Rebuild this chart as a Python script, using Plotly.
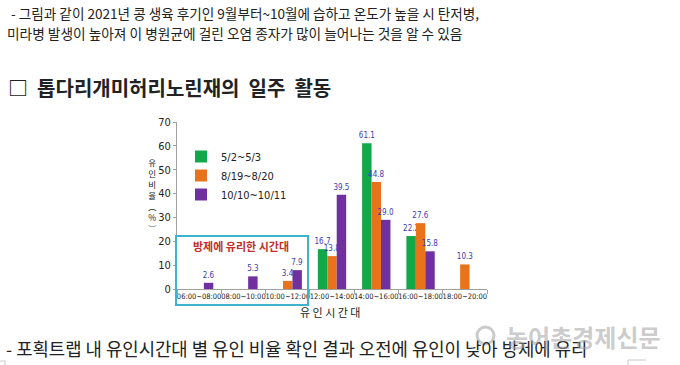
import plotly.graph_objects as go

# ---------------- data ----------------
categories = ["06:00~08:00", "08:00~10:00", "10:00~12:00", "12:00~14:00",
              "14:00~16:00", "16:00~18:00", "18:00~20:00"]
series_names = ["5/2~5/3", "8/19~8/20", "10/10~10/11"]
s1_values = [None, None, None, 16.7, 61.1, 22.2, None]
s2_values = [None, None, 3.4, 13.8, 44.8, 27.6, 10.3]
s3_values = [2.6, 5.3, 7.9, 39.5, 29.0, 15.8, None]
y_ticks = [0, 10, 20, 30, 40, 50, 60, 70]

colors = ["#12A84A", "#E8731A", "#7030A0"]

# ---------------- layout geometry (pixels) ----------------
W, H = 680, 365
L, R, T, B = 177, 487, 122, 289  # plot area in pixels


def px(x):
    return (x - L) / (R - L)


def py(y):
    return (B - y) / (B - T)


CJK = "Noto Sans CJK KR"
NARROW = "Liberation Sans Narrow, DejaVu Sans Condensed, Arial Narrow, sans-serif"

fig = go.Figure()
for name, vals, c in zip(series_names, [s1_values, s2_values, s3_values], colors):
    fig.add_trace(go.Bar(
        x=categories, y=vals, name=name, marker_color=c, marker_line_width=0,
        text=[("" if v is None else f"{v:.1f}") for v in vals],
        textposition="outside", cliponaxis=False, constraintext="none",
        textfont=dict(size=8, color="#3B3BB3", family=NARROW),
        legendgroup=name,
    ))

fig.update_layout(
    width=W, height=H,
    margin=dict(l=L, r=W - R, t=T, b=H - B, autoexpand=False),
    paper_bgcolor="white", plot_bgcolor="white",
    barmode="group", bargap=0.36, bargroupgap=0,
    font=dict(family=NARROW, color="#222"),
    showlegend=True,
    legend=dict(x=px(181), y=py(142), xanchor="left", yanchor="top",
                bgcolor="rgba(0,0,0,0)", font=dict(size=11, family=NARROW, color="#222"),
                tracegroupgap=5, traceorder="normal", itemwidth=30),
    xaxis=dict(type="category", range=[-0.5, 6.5], showline=True, linecolor="#A0A0A0",
               linewidth=1, ticks="outside", tickson="boundaries", ticklen=4,
               tickcolor="#A0A0A0", tickangle=0,
               tickfont=dict(size=7.5, family=NARROW, color="#222"),
               showgrid=False, zeroline=False),
    yaxis=dict(range=[0, 70], tickvals=y_ticks, showline=True, linecolor="#A0A0A0",
               linewidth=1, ticks="outside", ticklen=3, tickcolor="#A0A0A0",
               tickfont=dict(size=11, family=NARROW, color="#222"),
               showgrid=False, zeroline=False),
)

# x-axis title
fig.add_annotation(text="유 인 시 간 대", xref="paper", yref="paper", x=px(330), y=py(312),
                   xanchor="center", yanchor="middle", showarrow=False,
                   font=dict(size=11, family=CJK, color="#222"))

# y-axis title, vertical stacked characters
ytitle_chars = ["유", "인", "비", "율", "︵", "%", "︶"]
fig.add_annotation(text="<br>".join(ytitle_chars), xref="paper", yref="paper", x=px(152), y=py(195),
                   showarrow=False, font=dict(size=8.5, family=CJK, color="#222"),
                   xanchor="center", yanchor="middle", align="center")

# teal highlight box
fig.add_shape(type="rect", xref="paper", yref="paper", x0=px(176), x1=px(308),
              y0=py(305), y1=py(236), line=dict(color="#3FB3CC", width=2), fillcolor="rgba(0,0,0,0)")
fig.add_annotation(text="<b>방제에 유리한 시간대</b>", xref="paper", yref="paper",
                   x=px(241), y=py(246), xanchor="center", yanchor="middle", showarrow=False,
                   font=dict(size=11, family=CJK, color="#C0302A"))

# document text
fig.add_annotation(text=" - 그림과 같이 2021년 콩 생육 후기인 9월부터~10월에 습하고 온도가 높을 시 탄저병,",
                   xref="paper", yref="paper", x=px(6), y=py(13), xanchor="left", yanchor="middle",
                   showarrow=False, font=dict(size=13.6, family=CJK, color="#222"))
fig.add_annotation(text="미라병 발생이 높아져 이 병원균에 걸린 오염 종자가 많이 늘어나는 것을 알 수 있음",
                   xref="paper", yref="paper", x=px(5), y=py(33), xanchor="left", yanchor="middle",
                   showarrow=False, font=dict(size=13.7, family=CJK, color="#222"))
fig.add_annotation(text="<b>□  톱다리개미허리노린재의  일주  활동</b>",
                   xref="paper", yref="paper", x=px(6), y=py(87), xanchor="left", yanchor="middle",
                   showarrow=False, font=dict(size=20, family=CJK, color="#222"))
fig.add_annotation(text="- 포획트랩 내 유인시간대 별 유인 비율 확인 결과 오전에 유인이 낮아 방제에 유리",
                   xref="paper", yref="paper", x=px(4), y=py(348), xanchor="left", yanchor="middle",
                   showarrow=False, font=dict(size=17.8, family=CJK, color="#222"))
# watermark
fig.add_annotation(text="<b>농어촌경제신문</b>", xref="paper", yref="paper", x=px(663), y=py(336),
                   xanchor="right", yanchor="middle", showarrow=False,
                   font=dict(size=24, family=CJK, color="rgba(160,160,160,0.55)"))
fig.add_shape(type="circle", xref="paper", yref="paper", x0=px(477), x1=px(494), y0=py(344), y1=py(327),
              line=dict(color="rgba(160,160,160,0.55)", width=3))

# faint page-frame corners
fig.add_shape(type="path", xref="paper", yref="paper",
              path=f"M {px(0)},{py(361)} L {px(5)},{py(361)} L {px(5)},{py(365)}",
              line=dict(color="#C8C8C8", width=1))
fig.add_shape(type="path", xref="paper", yref="paper",
              path=f"M {px(646)},{py(360)} L {px(628)},{py(360)} L {px(628)},{py(365)}",
              line=dict(color="#C8C8C8", width=1))

fig.write_html("out.html", config={"displayModeBar": False},
               post_script="document.body.style.margin='0';")
